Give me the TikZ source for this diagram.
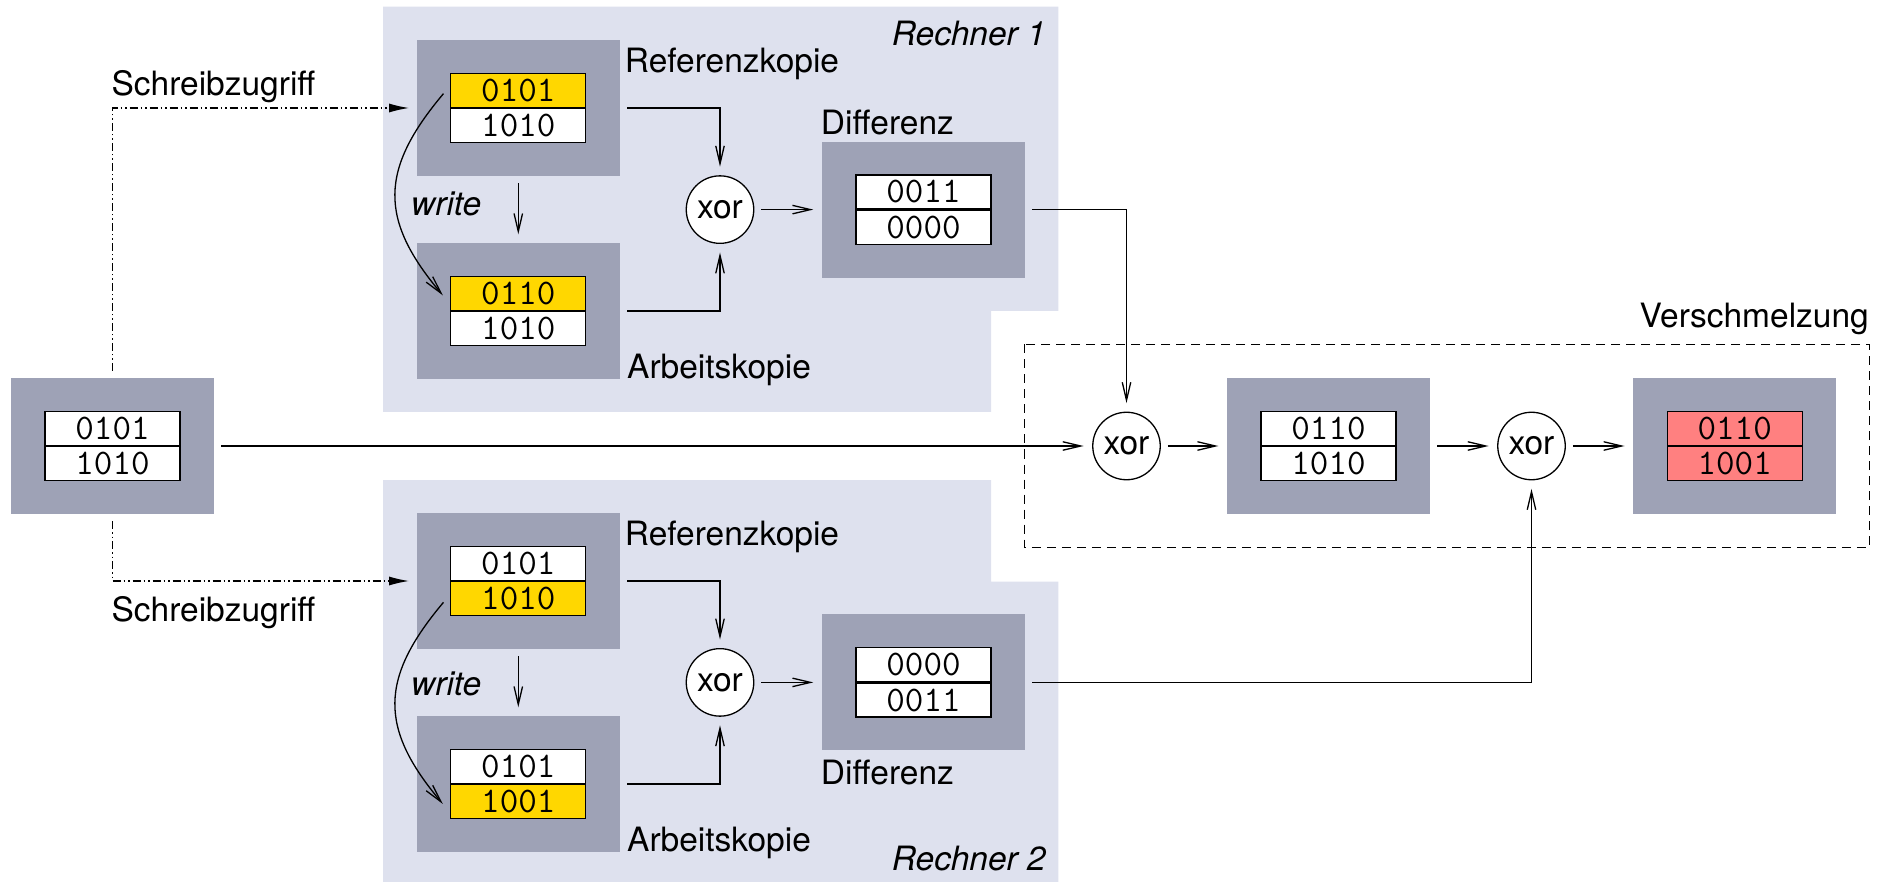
\documentclass[tikz,border=0pt]{standalone}
\usepackage{fontspec}
\setmainfont{TeX Gyre Heros}
\usetikzlibrary{arrows.meta}

\definecolor{hostbg}{RGB}{222,225,238}
\definecolor{cellgray}{RGB}{158,162,182}
\definecolor{bitgold}{RGB}{255,215,0}
\definecolor{bitred}{RGB}{255,128,128}

\newcommand\labelsize{\fontsize{33.5pt}{40pt}\selectfont}

\tikzset{
  cellframe/.style={rectangle, fill=cellgray, minimum width=203pt, minimum height=136pt, inner sep=0pt},
  bitrow/.style={rectangle, draw=black, line width=1.3pt, minimum width=135pt, minimum height=34pt,
    inner sep=0pt, font=\ttfamily\fontsize{36pt}{40pt}\selectfont},
  xorgate/.style={circle, draw=black, fill=white, line width=1.3pt, minimum size=67.5pt, inner sep=0pt, font=\labelsize},
  flow/.style={-{Straight Barb[length=18pt,width=8.5pt]}, line width=1.3pt, shorten <=7pt, shorten >=8.5pt},
  access/.style={-{Latex[length=20pt,width=9pt]}, line width=1.3pt,
    dash pattern=on 8pt off 3pt on 1.5pt off 3pt on 1.5pt off 3pt, shorten <=7pt, shorten >=7.5pt},
  lbl/.style={inner sep=0pt, anchor=base west, font=\labelsize},
  lblit/.style={inner sep=0pt, anchor=base west, font=\labelsize\itshape},
  hostname/.style={inner sep=0pt, anchor=base east, font=\labelsize\itshape},
  mergezone/.style={draw=black, line width=1.3pt, dash pattern=on 9pt off 6pt},
}

% memory cell: gray frame with a two-row bit register
% #1 name, #2 x, #3 y, #4 upper bits, #5 lower bits, #6 upper fill, #7 lower fill
\newcommand\memcell[7]{%
  \node[cellframe] (#1) at (#2,#3) {};
  \node[bitrow, fill=#6, anchor=south] (#1-t) at (#1.center) {#4};
  \node[bitrow, fill=#7, anchor=north] (#1-b) at (#1.center) {#5};
}

\begin{document}
\begin{tikzpicture}[x=1pt, y=-1pt]
\useasboundingbox (0,0) rectangle (1888,882);

% host areas
\fill[hostbg] (383,6.7) -- (1058.3,6.7) -- (1058.3,311) -- (991,311) -- (991,412) -- (383,412) -- cycle;
\fill[hostbg] (383,480) -- (991,480) -- (991,581.5) -- (1058.3,581.5) -- (1058.3,882) -- (383,882) -- cycle;

% merge zone
\draw[mergezone] (1024.6,344.5) rectangle (1869.5,547.3);

% cells
\memcell{src}{112.5}{446}{0101}{1010}{white}{white}
\memcell{ref1}{518.3}{108}{0101}{1010}{bitgold}{white}
\memcell{work1}{518.3}{311}{0110}{1010}{bitgold}{white}
\memcell{diff1}{923.5}{209.6}{0011}{0000}{white}{white}
\memcell{ref2}{518.3}{581}{0101}{1010}{white}{bitgold}
\memcell{work2}{518.3}{784}{0101}{1001}{white}{bitgold}
\memcell{diff2}{923.5}{682.4}{0000}{0011}{white}{white}
\memcell{m1}{1328.5}{446}{0110}{1010}{white}{white}
\memcell{m2}{1734.7}{446}{0110}{1001}{bitred}{bitred}

% xor gates
\node[xorgate] (xor1) at (720,209.6) {xor};
\node[xorgate] (xor4) at (720,682.4) {xor};
\node[xorgate] (xor2) at (1126.5,446) {xor};
\node[xorgate] (xor3) at (1531.5,446) {xor};

% labels
\node[lbl] (sz1) at (111.4,96) {Schreibzugriff};
\node[lbl] (sz2) at (111.4,621.5) {Schreibzugriff};
\node[lbl] (rk1) at (624.7,72.4) {Referenzkopie};
\node[lbl] (rk2) at (624.7,545.7) {Referenzkopie};
\node[lbl] (ak1) at (627,378.7) {Arbeitskopie};
\node[lbl] (ak2) at (627,851.7) {Arbeitskopie};
\node[lbl] (df1) at (820.7,135) {Differenz};
\node[lbl] (df2) at (820.7,784) {Differenz};
\node[lblit] (wr1) at (411,216) {write};
\node[lblit] (wr2) at (411,695) {write};
\node[hostname] (h1) at (1046,46) {Rechner 1};
\node[hostname] (h2) at (1046,870) {Rechner 2};
\node[inner sep=0pt, anchor=base east, font=\labelsize] (vs) at (1869,327.3) {Verschmelzung};

% write accesses
\draw[access] (src.north) |- (ref1.west);
\draw[access] (src.south) |- (ref2.west);

% host 1
\draw[flow] (ref1.east) -| (xor1.north);
\draw[flow] (work1.east) -| (xor1.south);
\draw[flow] (xor1) -- (diff1);
\draw[flow] (ref1) -- (work1);
\draw[flow, shorten <=0pt, shorten >=0pt]
  ([xshift=-6.7pt,yshift=-3.3pt]ref1-t.west) .. controls +(-64,76) and +(-64,-76) .. ([xshift=-7.3pt,yshift=-2pt]work1-t.west);

% host 2
\draw[flow] (ref2.east) -| (xor4.north);
\draw[flow] (work2.east) -| (xor4.south);
\draw[flow] (xor4) -- (diff2);
\draw[flow] (ref2) -- (work2);
\draw[flow, shorten <=0pt, shorten >=0pt]
  ([xshift=-6.7pt,yshift=-3.7pt]ref2-b.west) .. controls +(-64,76) and +(-64,-76) .. ([xshift=-7.3pt,yshift=-2.3pt]work2-b.west);

% merge
\draw[flow] (src) -- (xor2);
\draw[flow] (diff1.east) -| (xor2.north);
\draw[flow] (diff2.east) -| (xor3.south);
\draw[flow] (xor2) -- (m1);
\draw[flow] (m1) -- (xor3);
\draw[flow] (xor3) -- (m2);
\end{tikzpicture}
\end{document}
